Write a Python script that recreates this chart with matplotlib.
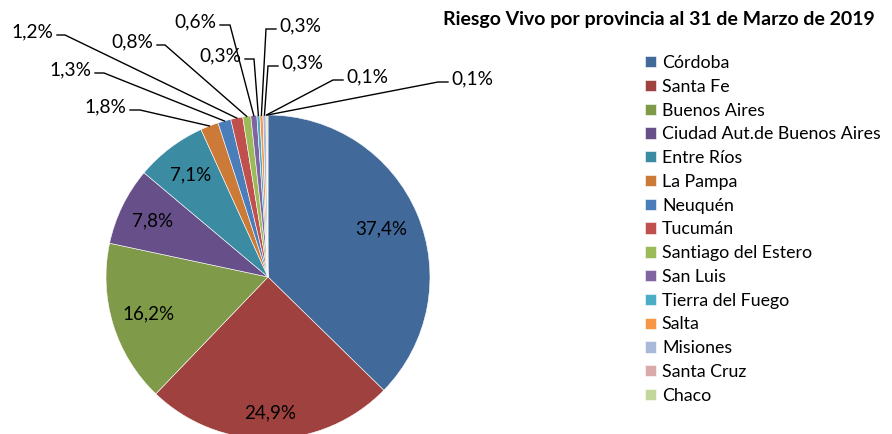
import numpy as np
import matplotlib
matplotlib.use("Agg")
import matplotlib.pyplot as plt

plt.rcParams['font.family'] = ['Lato', 'DejaVu Sans']

# datos
provincias = ["Córdoba", "Santa Fe", "Buenos Aires", "Ciudad Aut.de Buenos Aires",
              "Entre Ríos", "La Pampa", "Neuquén", "Tucumán", "Santiago del Estero",
              "San Luis", "Tierra del Fuego", "Salta", "Misiones", "Santa Cruz", "Chaco"]
porcentajes = [37.4, 24.9, 16.2, 7.8, 7.1, 1.8, 1.3, 1.2, 0.8, 0.6, 0.3, 0.3, 0.3, 0.1, 0.1]
colores = ["#416A9B", "#9F413E", "#7F9A48", "#67508A", "#3B8BA2", "#CC7A37",
           "#4A7EBB", "#C0504D", "#9BBB59", "#8064A2", "#4BACC6", "#F79646",
           "#A9B9D8", "#D9AAA9", "#C3D69B"]
titulo = "Riesgo Vivo por provincia al 31 de Marzo de 2019"

# layout en pixeles
W, H = 892, 434
cx, cy, R = 268, 277, 162


def px(x, y):
    return (x - cx) / R, (cy - y) / R


fig = plt.figure(figsize=(W / 100, H / 100), dpi=100)
ax = fig.add_axes([0, 0, 1, 1])

wedges, _ = ax.pie(porcentajes, colors=colores, startangle=90, counterclock=False,
                   radius=1.0, wedgeprops=dict(edgecolor='white', linewidth=0.4))
# pie() pisa los limites, se fijan despues
ax.set_xlim(-cx / R, (W - cx) / R)
ax.set_ylim(-(H - cy) / R, cy / R)
ax.set_aspect('auto')
ax.axis('off')


def etiqueta(v):
    return ("%.1f%%" % v).replace('.', ',')


# etiquetas internas
dist_in = [0.76, 0.84, 0.77, 0.79, 0.79]
for i, d in enumerate(dist_in):
    w = wedges[i]
    a = np.deg2rad((w.theta1 + w.theta2) / 2)
    ax.text(d * np.cos(a), d * np.sin(a), etiqueta(porcentajes[i]),
            ha='center', va='center', fontsize=13.5, color='black')

# etiquetas externas: (x inicio segmento, x quiebre, y linea, lado)
lineas = [
    (130, 140, 110, 'L'),
    (95, 104, 73, 'L'),
    (57, 65, 35, 'L'),
    (157, 165, 45, 'L'),
    (220, 230, 25, 'L'),
    (245, 254, 59, 'L'),
    (276, 266, 29, 'R'),
    (278, 268, 66, 'R'),
    (343, 333, 80, 'R'),
    (448, 438, 82, 'R'),
]
for k, (xs, xb, yl, lado) in enumerate(lineas):
    i = 5 + k
    w = wedges[i]
    a = np.deg2rad((w.theta1 + w.theta2) / 2)
    ex, ey = np.cos(a), np.sin(a)
    p0 = px(xs, yl)
    p1 = px(xb, yl)
    ax.plot([p0[0], p1[0], ex], [p0[1], p1[1], ey], color='black', lw=1.0,
            solid_joinstyle='miter')
    if lado == 'L':
        tx, ty = px(xs - 4, yl - 3)
        ha = 'right'
    else:
        tx, ty = px(xs + 3, yl - 3)
        ha = 'left'
    ax.text(tx, ty, etiqueta(porcentajes[i]), ha=ha, va='center',
            fontsize=13.8, color='black')

fig.text(659 / W, 1 - 20 / H, titulo, ha='center', va='center',
         fontsize=14, fontweight='bold')

fig.legend(wedges, provincias, loc='upper left', bbox_to_anchor=(645 / W, 1 - 55 / H),
           frameon=False, fontsize=12.8, handlelength=0.6, handleheight=0.6,
           handletextpad=0.35, labelspacing=0.437, borderaxespad=0, borderpad=0)

fig.savefig("out.png", dpi=100)
